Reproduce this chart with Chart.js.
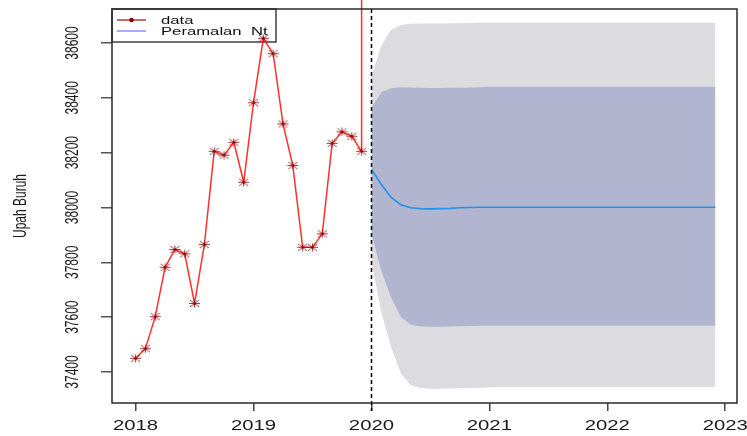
<!DOCTYPE html>
<html>
<head>
<meta charset="utf-8">
<script src="https://cdn.jsdelivr.net/npm/chart.js@4.4.1/dist/chart.umd.min.js"></script>
<style>
  html, body { margin: 0; padding: 0; background: #fff; }
  canvas { display: block; }
</style>
</head>
<body>
<canvas id="chart" width="747" height="436"></canvas>
<script>
// observed monthly wages, Jan 2018 - Dec 2019
const dataStart = 2018;
const upahBuruh = [37450, 37485, 37602, 37782, 37847, 37831, 37650, 37865, 38205, 38191, 38238, 38092,
                   38382, 38617, 38561, 38305, 38153, 37855, 37855, 37904, 38234, 38276, 38260, 38205];
// the stray vertical segment after the last observation
const lonjakan = [38205, 39200];

// forecast Jan 2020 - Dec 2022 with 80% and 95% intervals
const fcStart = 2020;
const ramalan = [38139, 38085, 38037, 38010, 37999, 37996, 37995, 37996, 37997, 37999, 38000, 38001,
                 38001, 38001, 38001, 38001, 38001, 38001, 38001, 38001, 38001, 38001, 38001, 38001,
                 38001, 38001, 38001, 38001, 38001, 38001, 38001, 38001, 38001, 38001, 38001, 38001];
const hi80 = [38364, 38420, 38435, 38439, 38438, 38437, 38436, 38436, 38437, 38437, 38438, 38439,
              38440, 38440, 38440, 38440, 38440, 38440, 38440, 38440, 38440, 38440, 38440, 38440,
              38440, 38440, 38440, 38440, 38440, 38440, 38440, 38440, 38440, 38440, 38440, 38440];
const lo80 = [37905, 37770, 37672, 37600, 37573, 37566, 37565, 37565, 37566, 37567, 37568, 37569,
              37569, 37569, 37569, 37569, 37569, 37569, 37569, 37569, 37569, 37569, 37569, 37569,
              37569, 37569, 37569, 37569, 37569, 37569, 37569, 37569, 37569, 37569, 37569, 37569];
const hi95 = [38478, 38590, 38648, 38666, 38670, 38671, 38671, 38671, 38672, 38672, 38673, 38674,
              38674, 38674, 38674, 38674, 38674, 38674, 38674, 38674, 38674, 38674, 38674, 38674,
              38674, 38674, 38674, 38674, 38674, 38674, 38674, 38674, 38674, 38674, 38674, 38674];
const lo95 = [37802, 37620, 37490, 37395, 37352, 37342, 37339, 37339, 37340, 37341, 37342, 37343,
              37344, 37345, 37345, 37345, 37345, 37345, 37345, 37345, 37345, 37345, 37345, 37345,
              37345, 37345, 37345, 37345, 37345, 37345, 37345, 37345, 37345, 37345, 37345, 37345];

const yTicks = [37400, 37600, 37800, 38000, 38200, 38400, 38600];
const xTicks = [2018, 2019, 2020, 2021, 2022, 2023];
const yRange = [37287, 38724];
const xRange = [2017.8, 2023.1];

const FONT = '"Liberation Sans", Arial, sans-serif';

const monthly = (start, values) => values.map((v, i) => ({ x: start + i / 12, y: v }));
const lastX = dataStart + (upahBuruh.length - 1) / 12;

// R style pch=8 asterisk, a bit wider than tall
function asterisk() {
  const c = document.createElement('canvas');
  c.width = 13; c.height = 9;
  const g = c.getContext('2d');
  g.strokeStyle = 'rgba(150,25,25,0.85)';
  g.lineWidth = 1;
  g.beginPath();
  g.moveTo(1, 4.5); g.lineTo(12, 4.5);
  g.moveTo(6.5, 0.5); g.lineTo(6.5, 8.5);
  g.moveTo(2, 1); g.lineTo(11, 8);
  g.moveTo(2, 8); g.lineTo(11, 1);
  g.stroke();
  g.fillStyle = '#8b0000';
  g.fillRect(5.5, 3.5, 2, 2);
  return c;
}

function wideText(ctx, text, x, y, sx, rot) {
  ctx.save();
  ctx.translate(x, y);
  ctx.scale(sx, 1);
  if (rot) ctx.rotate(rot);
  ctx.fillText(text, 0, 0);
  ctx.restore();
}

const rFrame = {
  id: 'rFrame',
  beforeDatasetsDraw(chart) {
    // legend box in the top-left corner of the plot
    const { ctx, chartArea: a } = chart;
    const items = [
      { label: chart.data.datasets[0].label, color: '#b03a3a', dot: true },
      { label: chart.data.datasets[1].label, color: '#8c8cff', dot: false }
    ];
    ctx.save();
    ctx.strokeStyle = '#222';
    ctx.lineWidth = 1.3;
    ctx.strokeRect(a.left, a.top, 164, 33);
    ctx.font = '11.5px ' + FONT;
    ctx.textAlign = 'left';
    ctx.textBaseline = 'middle';
    items.forEach((it, i) => {
      const y = a.top + 11 + i * 11;
      ctx.strokeStyle = it.color;
      ctx.lineWidth = 1.5;
      ctx.beginPath();
      ctx.moveTo(a.left + 5, y);
      ctx.lineTo(a.left + 34, y);
      ctx.stroke();
      if (it.dot) {
        ctx.fillStyle = '#8b0000';
        ctx.beginPath();
        ctx.arc(a.left + 19.5, y, 2.3, 0, Math.PI * 2);
        ctx.fill();
      }
      ctx.fillStyle = '#111';
      wideText(ctx, it.label, a.left + 49, y + 1, 1.45);
    });
    ctx.restore();
  },
  afterDraw(chart) {
    const { ctx, chartArea: a, scales } = chart;
    ctx.save();
    // dashed marker where the forecast begins
    const fx = Math.round(scales.x.getPixelForValue(fcStart)) + 0.5;
    ctx.strokeStyle = '#000';
    ctx.lineWidth = 1.5;
    ctx.setLineDash([4, 3]);
    ctx.beginPath();
    ctx.moveTo(fx, a.top);
    ctx.lineTo(fx, a.bottom + 8);
    ctx.stroke();
    ctx.setLineDash([]);

    // plot box
    ctx.strokeStyle = '#2a2a2a';
    ctx.lineWidth = 1.5;
    ctx.strokeRect(a.left, a.top, a.right - a.left, a.bottom - a.top);

    ctx.fillStyle = '#1a1a1a';
    ctx.textAlign = 'center';
    ctx.textBaseline = 'middle';
    ctx.font = '14px ' + FONT;
    scales.x.ticks.forEach(t => {
      wideText(ctx, String(t.value), scales.x.getPixelForValue(t.value), a.bottom + 23, 1.45);
    });
    ctx.font = '12px ' + FONT;
    scales.y.ticks.forEach(t => {
      wideText(ctx, String(t.value), 72.5, scales.y.getPixelForValue(t.value), 1.6, -Math.PI / 2);
    });
    wideText(ctx, 'Upah Buruh', 21, (a.top + a.bottom) / 2, 1.5, -Math.PI / 2);
    ctx.restore();
  }
};

new Chart(document.getElementById('chart'), {
  type: 'line',
  data: {
    datasets: [
      {
        label: 'data',
        data: monthly(dataStart, upahBuruh),
        borderColor: 'rgba(255,25,25,0.9)',
        borderWidth: 1.5,
        pointStyle: asterisk(),
        pointRadius: 5,
        tension: 0
      },
      {
        label: 'Peramalan  Nt',
        data: monthly(fcStart, ramalan),
        borderColor: '#2590e8',
        borderWidth: 1.6,
        pointRadius: 0,
        tension: 0
      },
      {
        label: 'lonjakan',
        data: lonjakan.map(v => ({ x: lastX, y: v })),
        borderColor: 'rgba(255,25,25,0.9)',
        borderWidth: 1.5,
        pointRadius: 0,
        clip: false
      },
      {
        label: 'hi80',
        data: monthly(fcStart, hi80),
        borderWidth: 0,
        pointRadius: 0,
        backgroundColor: '#b1b5d0',
        fill: '+1'
      },
      {
        label: 'lo80',
        data: monthly(fcStart, lo80),
        borderWidth: 0,
        pointRadius: 0,
        fill: false
      },
      {
        label: 'hi95',
        data: monthly(fcStart, hi95),
        borderWidth: 0,
        pointRadius: 0,
        backgroundColor: '#dbdbe0',
        fill: '+1'
      },
      {
        label: 'lo95',
        data: monthly(fcStart, lo95),
        borderWidth: 0,
        pointRadius: 0,
        fill: false
      }
    ]
  },
  options: {
    responsive: false,
    animation: false,
    devicePixelRatio: 1,
    layout: { padding: { left: 101, right: 10, top: 9, bottom: 25 } },
    plugins: {
      legend: { display: false },
      tooltip: { enabled: false }
    },
    scales: {
      x: {
        type: 'linear',
        min: xRange[0],
        max: xRange[1],
        afterBuildTicks: s => { s.ticks = xTicks.map(v => ({ value: v })); },
        ticks: { display: false },
        grid: { drawOnChartArea: false, drawTicks: true, tickLength: 8, color: '#444', lineWidth: 1.5 },
        border: { display: false }
      },
      y: {
        min: yRange[0],
        max: yRange[1],
        afterBuildTicks: s => { s.ticks = yTicks.map(v => ({ value: v })); },
        ticks: { display: false },
        grid: { drawOnChartArea: false, drawTicks: true, tickLength: 11, color: '#555', lineWidth: 1.5 },
        border: { display: false }
      }
    }
  },
  plugins: [rFrame]
});
</script>
</body>
</html>
